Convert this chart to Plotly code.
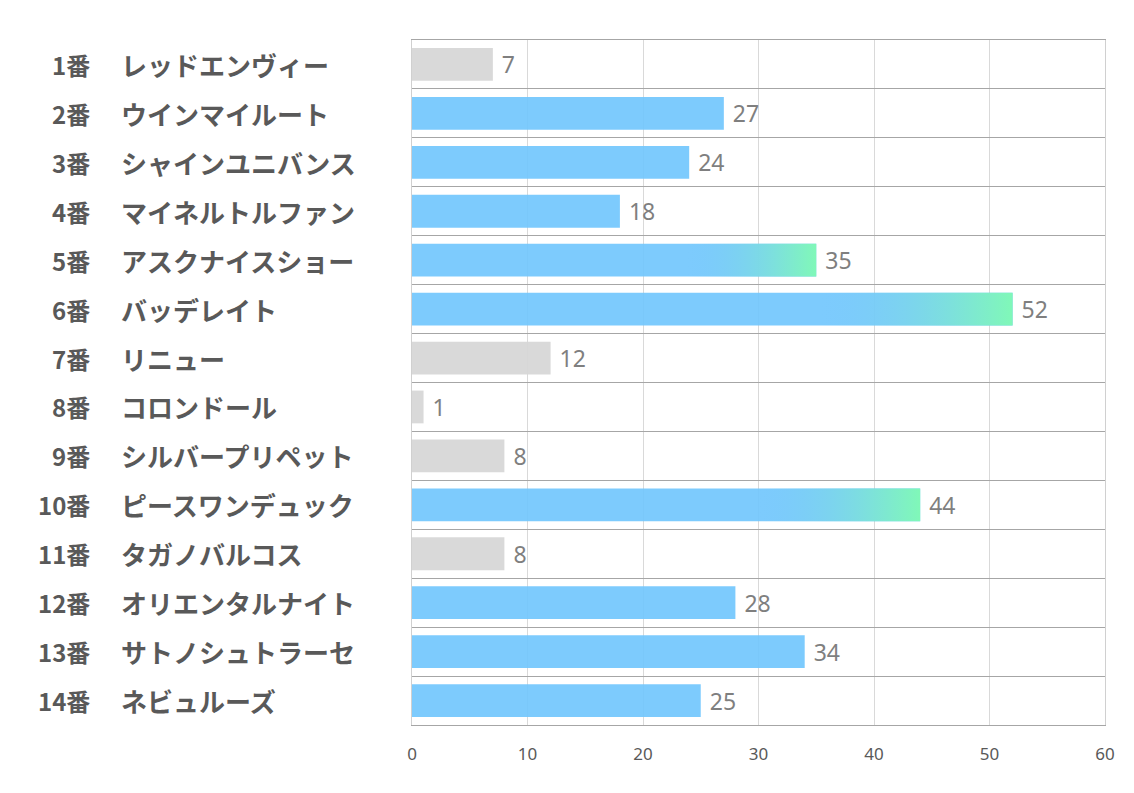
import plotly.graph_objects as go

numbers = ["1番", "2番", "3番", "4番", "5番", "6番", "7番", "8番", "9番", "10番", "11番", "12番", "13番", "14番"]
names = ["レッドエンヴィー", "ウインマイルート", "シャインユニバンス", "マイネルトルファン", "アスクナイスショー",
         "バッデレイト", "リニュー", "コロンドール", "シルバープリペット", "ピースワンデュック",
         "タガノバルコス", "オリエンタルナイト", "サトノシュトラーセ", "ネビュルーズ"]
values = [7, 27, 24, 18, 35, 52, 12, 1, 8, 44, 8, 28, 34, 25]
groups = ["gray", "blue", "blue", "blue", "grad", "grad", "gray", "gray", "gray", "grad", "gray", "blue", "blue", "blue"]
x_ticks = [0, 10, 20, 30, 40, 50, 60]

OFF = 8  # default page body margin
W, H = 1134 - OFF, 793 - OFF
L, R, T, B = 412 - OFF, 29, 40 - OFF, 68
pw = W - L - R

BLUE = "rgba(111,197,253,0.9)"
GRAY = "rgba(215,215,215,0.95)"
GREEN = "rgba(128,248,184,1)"
HALF = 0.335

idx = list(range(len(values)))
colors = [GRAY if g == "gray" else BLUE for g in groups]

fig = go.Figure()
fig.add_trace(go.Bar(
    x=values, y=idx, orientation="h", marker=dict(color=colors, line=dict(width=0)),
    width=2 * HALF, text=[" " + str(v) for v in values], textposition="outside",
    textfont=dict(family="Noto Sans, Open Sans, sans-serif", size=23, color="#7f7f7f"),
    constraintext="none", cliponaxis=False, hoverinfo="skip",
))

for i, (v, g) in enumerate(zip(values, groups)):
    if g != "grad":
        continue
    fig.add_trace(go.Scatter(
        x=[0, v, v, 0, 0], y=[i - HALF, i - HALF, i + HALF, i + HALF, i - HALF],
        mode="lines", line=dict(width=0), fill="toself",
        fillgradient=dict(type="horizontal", start=0, stop=v,
                          colorscale=[[0, "rgba(120,200,252,0)"], [0.68, "rgba(120,200,252,0)"],
                                      [0.9, "rgba(125,227,216,0.92)"], [1, GREEN]]),
        hoverinfo="skip", showlegend=False,
    ))

ann = []
for i, (n, nm) in enumerate(zip(numbers, names)):
    ann.append(dict(x=(92 - OFF - L) / pw, y=i, xref="paper", yref="y", text=n, showarrow=False,
                    xanchor="right", yanchor="middle",
                    font=dict(family="Noto Sans CJK JP", size=24, color="#595959", weight="bold")))
    ann.append(dict(x=(119 - OFF - L) / pw, y=i, xref="paper", yref="y", text=nm, showarrow=False,
                    xanchor="left", yanchor="middle",
                    font=dict(family="Noto Sans CJK JP", size=26, color="#595959", weight="bold")))

fig.update_layout(
    width=W, height=H, margin=dict(l=L, r=R, t=T, b=B, autoexpand=False),
    paper_bgcolor="white", plot_bgcolor="white", showlegend=False,
    annotations=ann,
    xaxis=dict(range=[0, 60], tickvals=x_ticks, ticktext=[str(t) for t in x_ticks],
               showgrid=True, gridcolor="#d9d9d9", gridwidth=1, zeroline=False,
               showline=True, mirror=True, linecolor="#a6a6a6", linewidth=1.3,
               ticks="", ticklabelstandoff=13,
               tickfont=dict(family="Noto Sans, sans-serif", size=17, color="#595959")),
    yaxis=dict(range=[len(values) - 0.5, -0.5], tickvals=[k - 0.5 for k in range(len(values) + 1)],
               showticklabels=False, showgrid=True, gridcolor="#a6a6a6", gridwidth=1.3,
               zeroline=False, showline=True, mirror=True, linecolor="#d0d0d0", linewidth=1, ticks=""),
)

fig.write_html("out.html")
